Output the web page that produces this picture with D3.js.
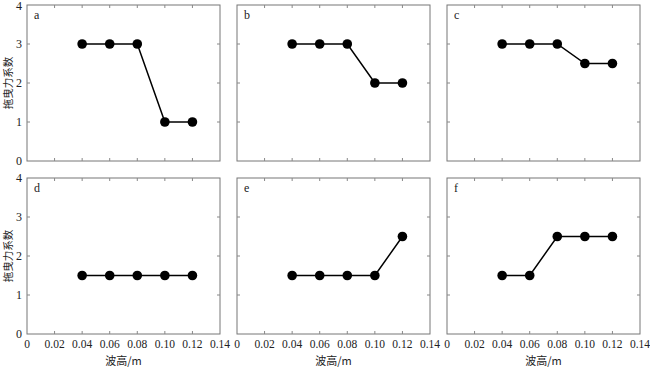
<!DOCTYPE html>
<html>
<head>
<meta charset="utf-8">
<script src="https://cdn.jsdelivr.net/npm/d3@7"></script>
<style>
  body { margin: 0; background: #fff; }
</style>
</head>
<body>
<script>
// wave height (m) and drag coefficient for each panel
const waveHeights = [0.04, 0.06, 0.08, 0.10, 0.12];
const panelNames = ['a', 'b', 'c', 'd', 'e', 'f'];
const dragA = [3, 3, 3, 1, 1];
const dragB = [3, 3, 3, 2, 2];
const dragC = [3, 3, 3, 2.5, 2.5];
const dragD = [1.5, 1.5, 1.5, 1.5, 1.5];
const dragE = [1.5, 1.5, 1.5, 1.5, 2.5];
const dragF = [1.5, 1.5, 2.5, 2.5, 2.5];
const xTicks = [0, 0.02, 0.04, 0.06, 0.08, 0.10, 0.12, 0.14];
const xTickLabels = ['0', '0.02', '0.04', '0.06', '0.08', '0.10', '0.12', '0.14'];
const yTicks = [0, 1, 2, 3, 4];
const yLabel = '拖曳力系数';
const xLabel = '波高/m';

const series = [dragA, dragB, dragC, dragD, dragE, dragF];

const serif = "Liberation Serif, Times New Roman, DejaVu Serif, serif";
const cjk = "Noto Sans CJK SC, sans-serif";

const width = 650, height = 367;
const colLeft = [27, 237, 447];
const rowTop = [5, 178];
const pw = 193, ph = 156;

const svg = d3.select("body").append("svg")
  .attr("width", width)
  .attr("height", height);

const x = d3.scaleLinear().domain([0, 0.14]).range([0, pw]);
const y = d3.scaleLinear().domain([0, 4]).range([ph, 0]);

const line = d3.line()
  .x((d, i) => x(waveHeights[i]))
  .y(d => y(d));

series.forEach((vals, k) => {
  const col = k % 3, row = Math.floor(k / 3);
  const g = svg.append("g")
    .attr("transform", `translate(${colLeft[col]},${rowTop[row]})`);

  // frame
  g.append("rect")
    .attr("width", pw).attr("height", ph)
    .attr("fill", "none")
    .attr("stroke", "#777")
    .attr("stroke-width", 1);

  // inward ticks on all four sides
  const ticksG = g.append("g").attr("stroke", "#888").attr("stroke-width", 1);
  xTicks.slice(1, -1).forEach(t => {
    ticksG.append("line").attr("x1", x(t)).attr("x2", x(t)).attr("y1", ph).attr("y2", ph - 3);
    ticksG.append("line").attr("x1", x(t)).attr("x2", x(t)).attr("y1", 0).attr("y2", 3);
  });
  yTicks.slice(1, -1).forEach(t => {
    ticksG.append("line").attr("x1", 0).attr("x2", 3).attr("y1", y(t)).attr("y2", y(t));
    ticksG.append("line").attr("x1", pw).attr("x2", pw - 3).attr("y1", y(t)).attr("y2", y(t));
  });

  if (col === 0) {
    g.selectAll(".ytl")
      .data(yTicks)
      .join("text")
        .attr("x", -5)
        .attr("y", d => y(d))
        .attr("dy", d => d === 4 && row === 0 ? "0.45em" : "0.35em")
        .attr("text-anchor", "end")
        .style("font-family", serif)
        .attr("font-size", 12)
        .attr("fill", "#222")
        .text(d => d);
    g.append("text")
      .attr("transform", `translate(-15,${ph / 2}) rotate(-90)`)
      .attr("text-anchor", "middle")
      .style("font-family", cjk)
      .attr("font-size", 10.5)
      .attr("fill", "#222")
      .text(yLabel);
  }

  if (row === 1) {
    g.selectAll(".xtl")
      .data(xTicks)
      .join("text")
        .attr("x", d => x(d))
        .attr("y", ph + 14)
        .attr("text-anchor", "middle")
        .style("font-family", serif)
        .attr("font-size", 11.5)
        .attr("fill", "#222")
        .text((d, i) => xTickLabels[i]);
    g.append("text")
      .attr("x", pw / 2)
      .attr("y", ph + 31)
      .attr("text-anchor", "middle")
      .style("font-family", cjk)
      .attr("font-size", 11)
      .attr("fill", "#222")
      .text(xLabel);
  }

  g.append("text")
    .attr("x", 7).attr("y", 14)
    .style("font-family", serif)
    .attr("font-size", 12)
    .attr("fill", "#222")
    .text(panelNames[k]);

  g.append("path")
    .datum(vals)
    .attr("fill", "none")
    .attr("stroke", "#000")
    .attr("stroke-width", 1.5)
    .attr("d", line);

  g.selectAll("circle")
    .data(vals)
    .join("circle")
      .attr("cx", (d, i) => x(waveHeights[i]))
      .attr("cy", d => y(d))
      .attr("r", 4.8)
      .attr("fill", "#000");
});
</script>
</body>
</html>
